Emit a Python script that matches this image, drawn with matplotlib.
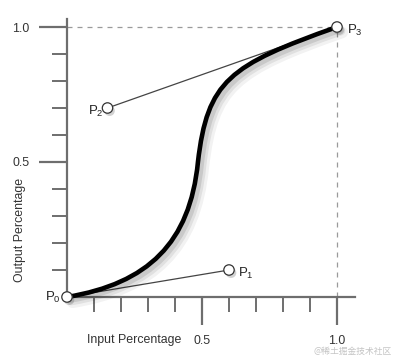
import matplotlib
matplotlib.use("Agg")
import matplotlib.pyplot as plt
import matplotlib.patheffects as pe
from matplotlib.path import Path
from matplotlib.patches import PathPatch

plt.rcParams['font.family'] = ['Liberation Sans', 'DejaVu Sans']

# Control points of the timing curve
point_names = ['0', '1', '2', '3']
point_x = [0.0, 0.6, 0.15, 1.0]
point_y = [0.0, 0.1, 0.7, 1.0]

# Drawn curve (two cubic Bezier segments)
curve_x = [0.0, 0.30, 0.455, 0.485, 0.52, 0.60, 1.0]
curve_y = [0.0, 0.05, 0.20, 0.50, 0.80, 0.859, 1.0]

major_ticks = [0.5, 1.0]
minor_ticks = [0.1, 0.2, 0.3, 0.4, 0.6, 0.7, 0.8, 0.9]
tick_labels = ['0.5', '1.0']

x_label = 'Input Percentage'
y_label = 'Output Percentage'
watermark = '@稀土掘金技术社区'

fig = plt.figure(figsize=(4.0, 3.58), dpi=100)
ax = fig.add_axes([0, 0, 1, 1])
scale = 270.0
ax.set_xlim(-67 / scale, 333 / scale)
ax.set_ylim((297 - 358) / scale, 297 / scale)

axis_color = '#6e6e6e'
for side in ['top', 'right']:
    ax.spines[side].set_visible(False)
ax.spines['left'].set_position(('data', 0))
ax.spines['bottom'].set_position(('data', 0))
ax.spines['left'].set_bounds(0, 1.03)
ax.spines['bottom'].set_bounds(0, 1.067)
for side in ['left', 'bottom']:
    ax.spines[side].set_color(axis_color)
    ax.spines[side].set_linewidth(1.6)

ax.set_xticks(major_ticks)
ax.set_xticklabels(tick_labels)
ax.set_yticks(major_ticks)
ax.set_yticklabels(tick_labels)
ax.set_xticks(minor_ticks, minor=True)
ax.set_yticks(minor_ticks, minor=True)
ax.tick_params(which='major', direction='out', length=20, width=1.6,
               color=axis_color, labelsize=8.9, labelcolor='#333333', pad=7)
ax.tick_params(which='minor', direction='out', length=10.5, width=1.4,
               color=axis_color)
ax.patch.set_alpha(0)

# dashed guides to P3
ax.plot([0, point_x[3]], [point_y[3], point_y[3]], ls=(0, (4, 4)),
        color='#9a9a9a', lw=0.9, zorder=1)
ax.plot([point_x[3], point_x[3]], [0, point_y[3]], ls=(0, (4, 4)),
        color='#9a9a9a', lw=0.9, zorder=1)

# control handles
ax.plot([point_x[0], point_x[1]], [point_y[0], point_y[1]], color='#444444',
        lw=0.9, zorder=2)
ax.plot([point_x[3], point_x[2]], [point_y[3], point_y[2]], color='#444444',
        lw=0.9, zorder=2)

# curve
verts = list(zip(curve_x, curve_y))
codes = [Path.MOVETO] + [Path.CURVE4] * (len(verts) - 1)
patch = PathPatch(Path(verts, codes), facecolor='none', edgecolor='black',
                  lw=3.3, capstyle='round', zorder=3)
patch.set_path_effects([
    pe.SimpleLineShadow(offset=(4, -4), shadow_color='black', alpha=0.05, linewidth=8),
    pe.SimpleLineShadow(offset=(3, -3), shadow_color='black', alpha=0.07, linewidth=6),
    pe.SimpleLineShadow(offset=(2, -2), shadow_color='black', alpha=0.10, linewidth=4.5),
    pe.Normal()])
ax.add_patch(patch)

# control points
ax.plot(point_x, point_y, ls='none', marker='o', ms=7.5, mfc='white',
        mec='#333333', mew=0.9, zorder=5, clip_on=False,
        path_effects=[pe.SimplePatchShadow(offset=(1.5, -2), alpha=0.25),
                      pe.Normal()])

label_offsets = {'0': (-22, 0), '1': (9, -3), '2': (-19, -3), '3': (10, -3)}
for name, px, py in zip(point_names, point_x, point_y):
    dx, dy = label_offsets[name]
    ax.annotate(r'$\mathregular{P_{%s}}$' % name, (px, py), xytext=(dx, dy),
                textcoords='offset pixels', ha='left', va='center',
                fontsize=9.5, color='#222222')

ax.text((134 - 67) / scale, (297 - 340) / scale, x_label, ha='center',
        va='center', fontsize=8.9, color='#333333')
ax.text((20 - 67) / scale, (297 - 230) / scale, y_label, ha='center',
        va='center', rotation=90, fontsize=8.9, color='#333333')
ax.text((392 - 67) / scale, (297 - 351) / scale, watermark, ha='right',
        va='center', fontsize=6.3, color='#c4c4c4',
        family=['Noto Sans CJK SC', 'DejaVu Sans'])

fig.savefig('out.png', dpi=100)
